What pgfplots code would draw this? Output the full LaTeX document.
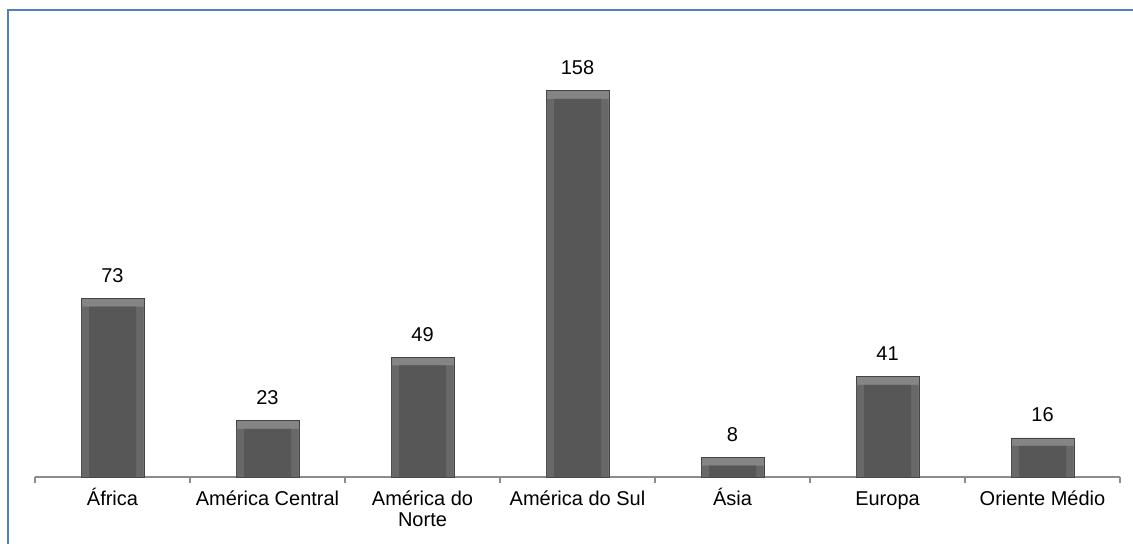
\documentclass[border=0pt]{standalone}
\usepackage{pgfplots}
\usepackage{pgfplotstable}
\pgfplotsset{compat=1.18}
\usepackage{fontspec}
\setmainfont{Liberation Sans}
\definecolor{framebl}{HTML}{4F81BD}
\definecolor{barmid}{HTML}{575757}
\definecolor{bevtop}{HTML}{858585}
\definecolor{bevside}{HTML}{686868}
\definecolor{barline}{HTML}{444444}
\definecolor{axgray}{HTML}{8C8C8C}

% same top for every category label, accented or not
\newcommand{\lbl}[1]{\vphantom{Á}#1}

\pgfplotstableread{
x y
0 73
1 23
2 49
3 158
4 8
5 41
6 16
}\regions

\begin{document}
\begin{tikzpicture}[x=1pt,y=1pt]
\useasboundingbox (0,0) rectangle (566.5,271.5);
\draw[framebl, line width=1pt] (3.75,-5) -- (3.75,266.75) -- (580,266.75);
\begin{axis}[
  at={(17.5pt,33pt)}, anchor=south west,
  scale only axis, width=542.5pt, height=220pt,
  xmin=-0.5, xmax=6.5, ymin=0, ymax=180,
  axis x line*=bottom, hide y axis,
  x axis line style={axgray, line width=0.6pt},
  /pgf/number format/assume math mode=true,
  xtick={0,...,6},
  xticklabels={\lbl{África}, \lbl{América Central}, {\lbl{América do}\\Norte}, \lbl{América do Sul}, \lbl{Ásia}, \lbl{Europa}, \lbl{Oriente Médio}},
  xticklabel style={align=center, font=\fontsize{10}{10.5}\selectfont, yshift=-2pt},
  major tick length=0pt,
  minor xtick={-0.5,0.5,...,6.5},
  minor tick length=3pt,
  tick align=outside, xtick pos=bottom,
  minor tick style={axgray, line width=0.6pt},
  ybar,
  clip=false,
]
% outer bar with the light top bevel
\addplot[bar shift=0pt, bar width=31.5pt, fill=bevtop, draw=barline, line width=0.3pt,
  nodes near coords,
  every node near coord/.append style={font=\fontsize{10}{12}\selectfont, black, yshift=4.5pt}]
  table[x=x, y=y] {\regions};
% side bevels, starting 4pt below the top
\addplot[bar shift=0pt, bar width=31pt, fill=bevside, draw=none]
  table[x=x, y expr=\thisrow{y}-3.3] {\regions};
% flat face of the bar
\addplot[bar shift=0pt, bar width=23.5pt, fill=barmid, draw=none]
  table[x=x, y expr=\thisrow{y}-3.3] {\regions};
\end{axis}
\end{tikzpicture}
\end{document}
